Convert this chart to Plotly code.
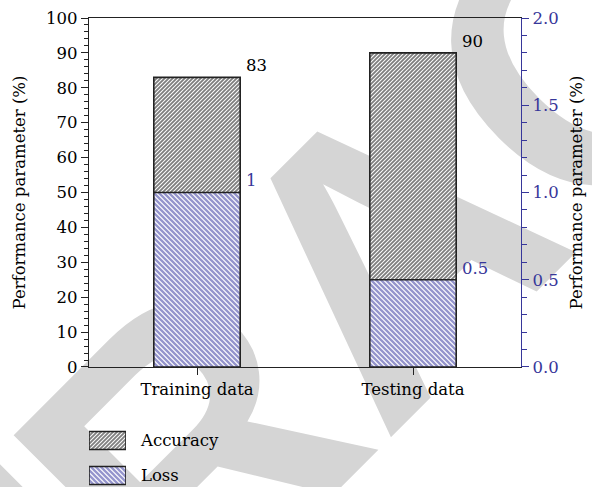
import plotly.graph_objects as go

# ---- data ----
categories = ["Training data", "Testing data"]
accuracy = [83, 90]          # left axis (%)
loss = [1, 0.5]              # right axis
legend_labels = ["Accuracy", "Loss"]
legend_values = [1, 1]

FONT = "DejaVu Serif"
BLUE = "#37379a"
EDGE = "#222222"
FS = 16.5

# pattern tile = size*sqrt(2); keep it an integer number of pixels (crisp lines)
acc_marker = dict(color="white", line=dict(color=EDGE, width=1.6),
                  pattern=dict(shape="/", fgcolor="#000000", bgcolor="white",
                               size=2.8284, solidity=0.66))
loss_marker = dict(color="white", line=dict(color=EDGE, width=1.6),
                   pattern=dict(shape="\\", fgcolor="#2a2a9a", bgcolor="white",
                                size=3.5355, solidity=0.66))

fig = go.Figure()
fig.add_trace(go.Bar(x=categories, y=accuracy, width=0.4, marker=acc_marker,
                     name="Accuracy", xaxis="x", yaxis="y", showlegend=False))
fig.add_trace(go.Bar(x=categories, y=loss, width=0.4, marker=loss_marker,
                     name="Loss", xaxis="x", yaxis="y2", showlegend=False))

# legend swatches drawn as a tiny subplot
fig.add_trace(go.Bar(y=[legend_labels[0]], x=[legend_values[0]], orientation="h",
                     width=0.514, marker=acc_marker, xaxis="x3", yaxis="y3",
                     showlegend=False, hoverinfo="skip"))
fig.add_trace(go.Bar(y=[legend_labels[1]], x=[legend_values[1]], orientation="h",
                     width=0.514, marker=loss_marker, xaxis="x3", yaxis="y3",
                     showlegend=False, hoverinfo="skip"))

for c, v in zip(categories, accuracy):
    fig.add_annotation(x=c, y=v, xref="x", yref="y", text=f"{v:g}", showarrow=False,
                       xanchor="left", yanchor="bottom", xshift=47,
                       font=dict(family=FONT, size=FS, color="black"))
for c, v in zip(categories, loss):
    fig.add_annotation(x=c, y=v, xref="x", yref="y2", text=f"{v:g}", showarrow=False,
                       xanchor="left", yanchor="bottom", xshift=47,
                       font=dict(family=FONT, size=FS, color=BLUE))

# watermark
fig.add_shape(type="rect", xref="paper", yref="paper", x0=0.622, x1=0.642,
              y0=0.553, y1=0.573, line=dict(width=0), fillcolor="rgba(0,0,0,0)",
              layer="below",
              label=dict(text="RETRACTED", textangle=-45, textposition="middle center",
                         font=dict(family="Liberation Sans", size=390, color="#d5d5d5",
                                   weight=700)))

fig.update_layout(
    width=592, height=487,
    margin=dict(l=89, r=71, t=18, b=0),
    paper_bgcolor="white", plot_bgcolor="rgba(0,0,0,0)",
    barmode="overlay", showlegend=False,
    font=dict(family=FONT, size=FS, color="black"),
    xaxis=dict(domain=[0, 1], anchor="y", showline=True, linecolor=EDGE, linewidth=1.2,
               mirror=True, ticks="outside", ticklen=7, tickcolor=EDGE,
               showgrid=False, zeroline=False, automargin=False),
    yaxis=dict(domain=[0.2559, 1], range=[0, 100], dtick=10, ticks="outside", ticklen=7,
               tickcolor=EDGE, showline=True, linecolor=EDGE, linewidth=1.2,
               minor=dict(dtick=2, ticks="outside", ticklen=4, tickcolor=EDGE),
               showgrid=False, zeroline=False, automargin=False,
               title=dict(text="Performance parameter (%)", standoff=16,
                          font=dict(size=16.5))),
    yaxis2=dict(overlaying="y", side="right", anchor="x", range=[0, 2], dtick=0.5,
                tickformat=".1f", ticks="outside", ticklen=7, tickcolor=BLUE,
                showline=True, linecolor=BLUE, linewidth=1.2,
                minor=dict(dtick=0.1, ticks="outside", ticklen=5, tickcolor=BLUE),
                tickfont=dict(color=BLUE), showgrid=False, zeroline=False,
                automargin=False,
                title=dict(text="Performance parameter (%)", standoff=12,
                           font=dict(color="black", size=16.5))),
    xaxis3=dict(domain=[0, 0.0856], anchor="y3", range=[0, 1], visible=False),
    yaxis3=dict(domain=[0, 0.1429], anchor="x3", side="right", type="category",
                categoryorder="array", categoryarray=legend_labels,
                range=[1.33, -0.584], ticks="", showline=False, showgrid=False,
                zeroline=False, ticklabelstandoff=14, automargin=False),
)

fig.write_html("out.html", config={"displayModeBar": False},
               post_script="document.body.style.margin='0';")
